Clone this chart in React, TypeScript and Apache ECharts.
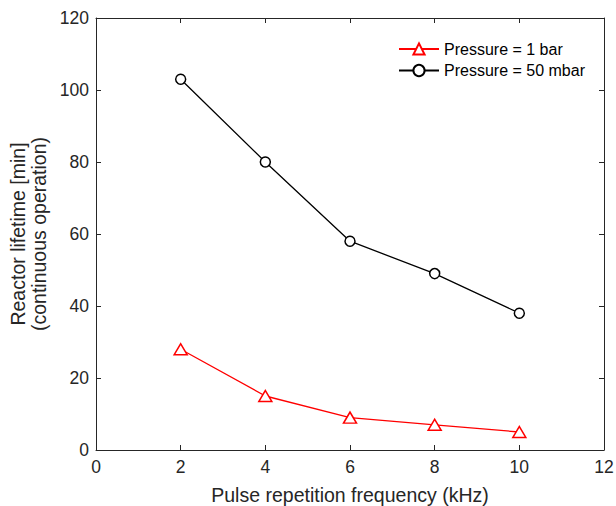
import React, { useEffect, useRef } from "react";
import * as echarts from "echarts";

const frequencies = [2, 4, 6, 8, 10];
const lifetime1bar = [28, 15, 9, 7, 5];
const lifetime50mbar = [103, 80, 58, 49, 38];
const seriesNames = ["Pressure = 1 bar", "Pressure = 50 mbar"];
const xTitle = "Pulse repetition frequency (kHz)";
const yTitle = "Reactor lifetime [min]\n(continuous operation)";

const FONT = "'Liberation Sans', Arial, Helvetica, sans-serif";
const AX = "#262626";

export default function App() {
  const ref = useRef<HTMLDivElement>(null);
  useEffect(() => {
    if (!ref.current) return;
    const chart = echarts.init(ref.current, undefined, { renderer: "svg" });
    const tickStyle = { show: true, inside: true, length: 5, lineStyle: { color: AX, width: 1 } };
    chart.setOption({
      animation: false,
      backgroundColor: "#ffffff",
      textStyle: { fontFamily: FONT },
      grid: { left: 96, right: 12, top: 18, bottom: 56, containLabel: false, outerBoundsMode: "none" },
      legend: {
        orient: "vertical",
        left: 393,
        top: 36,
        itemWidth: 40,
        itemHeight: 14,
        itemGap: 5.5,
        textStyle: { fontFamily: FONT, fontSize: 16, color: "#000", lineHeight: 16 },
        data: seriesNames,
      },
      xAxis: [
        {
          type: "value",
          min: 0,
          max: 12,
          interval: 2,
          position: "bottom",
          name: xTitle,
          nameLocation: "middle",
          nameGap: 35,
          nameTextStyle: { fontFamily: FONT, fontSize: 19.5, color: AX },
          axisLine: { show: true, lineStyle: { color: AX, width: 1 } },
          axisTick: tickStyle,
          axisLabel: { fontFamily: FONT, fontSize: 17.5, color: AX, margin: 8 },
          splitLine: { show: false },
        },
        {
          type: "value",
          min: 0,
          max: 12,
          interval: 2,
          position: "top",
          axisLine: { show: true, onZero: false, lineStyle: { color: AX, width: 1 } },
          axisTick: tickStyle,
          axisLabel: { show: false },
          splitLine: { show: false },
        },
      ],
      yAxis: [
        {
          type: "value",
          min: 0,
          max: 120,
          interval: 20,
          position: "left",
          name: yTitle,
          nameLocation: "middle",
          nameGap: 47,
          nameTextStyle: { fontFamily: FONT, fontSize: 19.5, color: AX, lineHeight: 20.5 },
          axisLine: { show: true, lineStyle: { color: AX, width: 1 } },
          axisTick: tickStyle,
          axisLabel: { fontFamily: FONT, fontSize: 17.5, color: AX, margin: 7 },
          splitLine: { show: false },
        },
        {
          type: "value",
          min: 0,
          max: 120,
          interval: 20,
          position: "right",
          axisLine: { show: true, onZero: false, lineStyle: { color: AX, width: 1 } },
          axisTick: tickStyle,
          axisLabel: { show: false },
          splitLine: { show: false },
        },
      ],
      series: [
        {
          name: seriesNames[0],
          type: "line",
          data: frequencies.map((f, i) => [f, lifetime1bar[i]]),
          symbol: "triangle",
          symbolSize: [13, 11],
          showAllSymbol: true,
          lineStyle: { color: "#ff0000", width: 1.3 },
          itemStyle: { color: "#ffffff", borderColor: "#ff0000", borderWidth: 1.5 },
          color: "#ff0000",
        },
        {
          name: seriesNames[1],
          type: "line",
          data: frequencies.map((f, i) => [f, lifetime50mbar[i]]),
          symbol: "circle",
          symbolSize: 10,
          showAllSymbol: true,
          lineStyle: { color: "#000000", width: 1.3 },
          itemStyle: { color: "#ffffff", borderColor: "#000000", borderWidth: 1.5 },
          color: "#000000",
        },
      ],
    });
    return () => chart.dispose();
  }, []);
  return (
    <div
      ref={ref}
      style={{ position: "absolute", left: 0, top: 0, width: 616, height: 506 }}
    />
  );
}
